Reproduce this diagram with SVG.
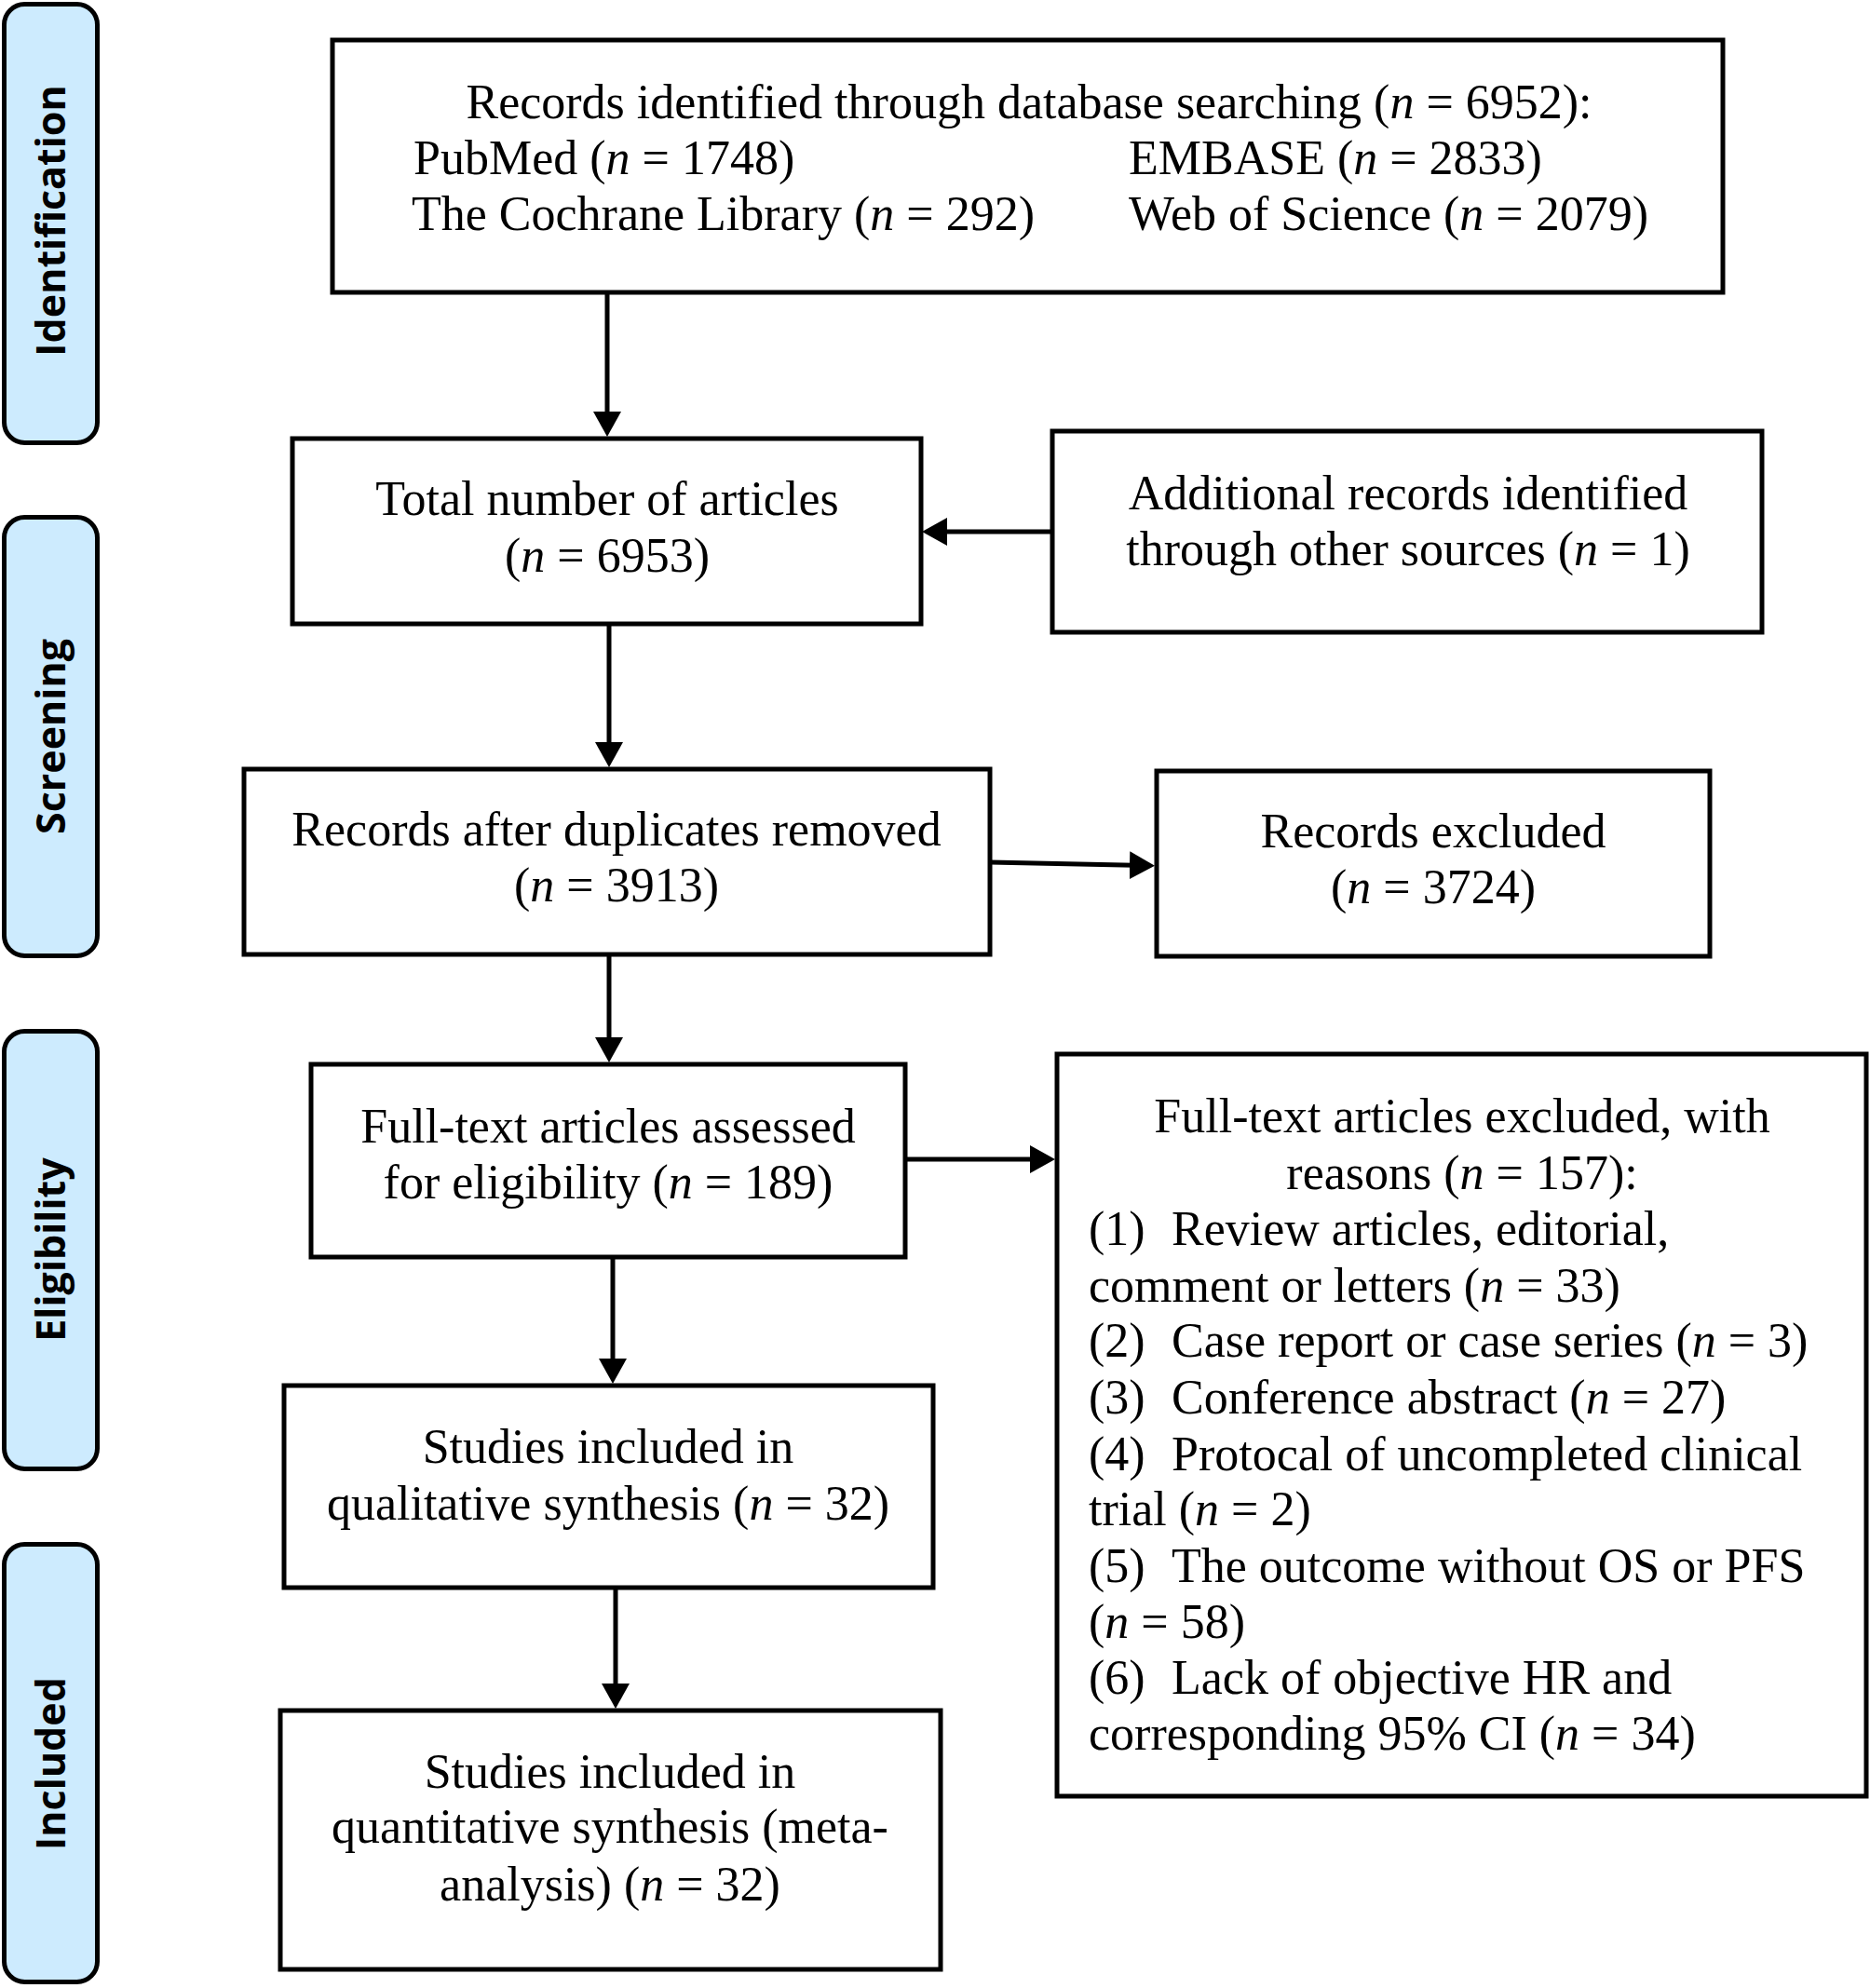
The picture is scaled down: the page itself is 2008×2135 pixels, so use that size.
<svg xmlns="http://www.w3.org/2000/svg" width="2008" height="2135" viewBox="0 0 2008 2135">
<defs>
<style>
.lbl{fill:#CDEBFE;stroke:#000;stroke-width:5}
.lt{font-family:"Open Sans","DejaVu Sans",sans-serif;font-weight:bold;font-size:43px;fill:#000;text-anchor:middle}
.box{fill:#fff;stroke:#000;stroke-width:5}
.t{font-family:"Liberation Serif","Times New Roman",serif;font-size:52px;fill:#000}
.c{text-anchor:middle}
.conn{stroke:#000;stroke-width:5;fill:none}
</style>
<marker id="ah" markerUnits="userSpaceOnUse" markerWidth="28" markerHeight="30" refX="17" refY="15" orient="auto">
<path d="M0,0 L27,15 L0,30 Z" fill="#000"/>
</marker>
</defs>
<rect width="2008" height="2135" fill="#fff"/>

<g id="stage-identification">
<rect class="lbl" x="4.5" y="4.5" width="100" height="471" rx="22"/>
<text class="lt" transform="translate(70,237) rotate(-90)">Identification</text>
</g>
<g id="stage-screening">
<rect class="lbl" x="4.5" y="555.5" width="100" height="471" rx="22"/>
<text class="lt" transform="translate(70,791) rotate(-90)">Screening</text>
</g>
<g id="stage-eligibility">
<rect class="lbl" x="4.5" y="1107.5" width="100" height="470" rx="22"/>
<text class="lt" transform="translate(70,1342) rotate(-90)">Eligibility</text>
</g>
<g id="stage-included">
<rect class="lbl" x="4.5" y="1658.5" width="100" height="470" rx="22"/>
<text class="lt" transform="translate(70,1894) rotate(-90)">Included</text>
</g>

<g id="connectors">
<line class="conn" x1="652" y1="314" x2="652" y2="459" marker-end="url(#ah)"/>
<line class="conn" x1="1130" y1="571" x2="1000" y2="571" marker-end="url(#ah)"/>
<line class="conn" x1="654" y1="670" x2="654" y2="814" marker-end="url(#ah)"/>
<line class="conn" x1="1063" y1="926" x2="1230" y2="929.5" marker-end="url(#ah)"/>
<line class="conn" x1="654" y1="1025" x2="654" y2="1131" marker-end="url(#ah)"/>
<line class="conn" x1="972" y1="1245" x2="1123" y2="1245" marker-end="url(#ah)"/>
<line class="conn" x1="658" y1="1350" x2="658" y2="1476" marker-end="url(#ah)"/>
<line class="conn" x1="661" y1="1705" x2="661" y2="1825" marker-end="url(#ah)"/>
</g>

<g id="node-database">
<rect class="box" x="357" y="43" width="1493" height="271"/>
<text class="t c" x="1105" y="127">Records identified through database searching (<tspan font-style="italic">n</tspan> = 6952):</text>
<text class="t" x="444" y="187">PubMed (<tspan font-style="italic">n</tspan> = 1748)</text>
<text class="t" x="1212" y="187">EMBASE (<tspan font-style="italic">n</tspan> = 2833)</text>
<text class="t" x="442" y="247">The Cochrane Library (<tspan font-style="italic">n</tspan> = 292)</text>
<text class="t" x="1212" y="247">Web of Science (<tspan font-style="italic">n</tspan> = 2079)</text>
</g>

<g id="node-total">
<rect class="box" x="314" y="471" width="675" height="199"/>
<text class="t c" x="652" y="553">Total number of articles</text>
<text class="t c" x="652" y="614">(<tspan font-style="italic">n</tspan> = 6953)</text>
</g>

<g id="node-additional">
<rect class="box" x="1130" y="463" width="762" height="216"/>
<text class="t c" x="1512" y="547">Additional records identified</text>
<text class="t c" x="1512" y="607">through other sources (<tspan font-style="italic">n</tspan> = 1)</text>
</g>

<g id="node-dedup">
<rect class="box" x="262" y="826" width="801" height="199"/>
<text class="t c" x="662" y="908">Records after duplicates removed</text>
<text class="t c" x="662" y="968">(<tspan font-style="italic">n</tspan> = 3913)</text>
</g>

<g id="node-records-excluded">
<rect class="box" x="1242" y="828" width="594" height="199"/>
<text class="t c" x="1539" y="910">Records excluded</text>
<text class="t c" x="1539" y="970">(<tspan font-style="italic">n</tspan> = 3724)</text>
</g>

<g id="node-fulltext">
<rect class="box" x="334" y="1143" width="638" height="207"/>
<text class="t c" x="653" y="1227">Full-text articles assessed</text>
<text class="t c" x="653" y="1287">for eligibility (<tspan font-style="italic">n</tspan> = 189)</text>
</g>

<g id="node-fulltext-excluded">
<rect class="box" x="1135" y="1132" width="869" height="797"/>
<text class="t c" x="1570" y="1216">Full-text articles excluded, with</text>
<text class="t c" x="1570" y="1277">reasons (<tspan font-style="italic">n</tspan> = 157):</text>
<text class="t" x="1169" y="1337">(1)<tspan x="1258">Review articles, editorial,</tspan></text>
<text class="t" x="1169" y="1398">comment or letters (<tspan font-style="italic">n</tspan> = 33)</text>
<text class="t" x="1169" y="1457">(2)<tspan x="1258">Case report or case series (</tspan><tspan font-style="italic">n</tspan> = 3)</text>
<text class="t" x="1169" y="1518">(3)<tspan x="1258">Conference abstract (</tspan><tspan font-style="italic">n</tspan> = 27)</text>
<text class="t" x="1169" y="1579">(4)<tspan x="1258">Protocal of uncompleted clinical</tspan></text>
<text class="t" x="1169" y="1638">trial (<tspan font-style="italic">n</tspan> = 2)</text>
<text class="t" x="1169" y="1699">(5)<tspan x="1258">The outcome without OS or PFS</tspan></text>
<text class="t" x="1169" y="1759">(<tspan font-style="italic">n</tspan> = 58)</text>
<text class="t" x="1169" y="1819">(6)<tspan x="1258">Lack of objective HR and</tspan></text>
<text class="t" x="1169" y="1879">corresponding 95% CI (<tspan font-style="italic">n</tspan> = 34)</text>
</g>

<g id="node-qualitative">
<rect class="box" x="305" y="1488" width="697" height="217"/>
<text class="t c" x="653" y="1571">Studies included in</text>
<text class="t c" x="653" y="1632">qualitative synthesis (<tspan font-style="italic">n</tspan> = 32)</text>
</g>

<g id="node-quantitative">
<rect class="box" x="301" y="1837" width="709" height="278"/>
<text class="t c" x="655" y="1920">Studies included in</text>
<text class="t c" x="655" y="1979">quantitative synthesis (meta-</text>
<text class="t c" x="655" y="2041">analysis) (<tspan font-style="italic">n</tspan> = 32)</text>
</g>
</svg>
